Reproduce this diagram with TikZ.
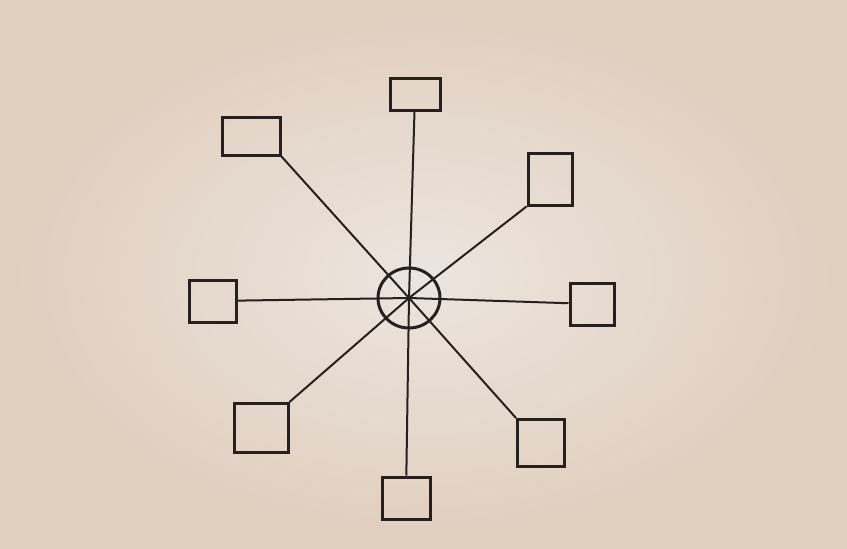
\documentclass[tikz,border=0pt]{standalone}
\usetikzlibrary{shapes.geometric}
\begin{document}
\begin{tikzpicture}[x=1pt,y=-1pt]

		\definecolor{paperin}{RGB}{236,229,223}
		\definecolor{paperout}{RGB}{224,206,190}
		\definecolor{ink}{RGB}{40,32,28}

		\tikzstyle{station} = [rectangle, draw=ink, line width=3pt, inner sep=0pt]
		
		\tikzstyle{spoke} = [draw=ink, line width=2pt]
		
		\tikzstyle{hubnode} = [ellipse, draw=ink, line width=3pt, minimum width=62pt, minimum height=60pt, inner sep=0pt]
		
		\shade[inner color=paperin, outer color=paperout] (0,0) rectangle (847,549);
		
		\node[hubnode] at (409,298) (hub) {};
		
		\node[station, minimum width=50pt, minimum height=32pt] at (415,94) (north) {};
		\node[station, minimum width=58pt, minimum height=38pt] at (251,136) (northwest) {};
		\node[station, minimum width=44pt, minimum height=52pt] at (550,179) (northeast) {};
		\node[station, minimum width=47pt, minimum height=42pt] at (213,301) (west) {};
		\node[station, minimum width=44pt, minimum height=42pt] at (592,304) (east) {};
		\node[station, minimum width=54pt, minimum height=49pt] at (261,428) (southwest) {};
		\node[station, minimum width=47pt, minimum height=47pt] at (541,443) (southeast) {};
		\node[station, minimum width=48pt, minimum height=42pt] at (406,498) (south) {};
		
		\draw[spoke] (north) -- (hub.center);
		\draw[spoke] (northwest.south east) -- (hub.center);
		\draw[spoke] (northeast.south west) -- (hub.center);
		\draw[spoke] (west) -- (hub.center);
		\draw[spoke] (east) -- (hub.center);
		\draw[spoke] (southwest.north east) -- (hub.center);
		\draw[spoke] (southeast.north west) -- (hub.center);
		\draw[spoke] (south) -- (hub.center);
\end{tikzpicture}
\end{document}
